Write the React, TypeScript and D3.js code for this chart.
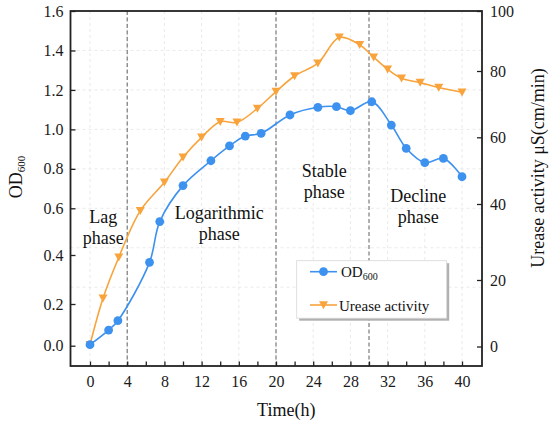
import React, { useEffect, useRef } from 'react';
import * as d3 from 'd3';

// OD600 readings (h, OD)
const timeOD = [0, 2, 3, 6.4, 7.5, 10, 13, 15, 16.7, 18.4, 21.5, 24.5, 26.5, 28, 30.3, 32.4, 34, 36, 38, 40];
const od600 = [0.005, 0.075, 0.12, 0.37, 0.543, 0.715, 0.841, 0.916, 0.966, 0.98, 1.073, 1.112, 1.115, 1.095, 1.14, 1.022, 0.904, 0.831, 0.853, 0.76];

// urease activity readings (h, uS(cm/min))
const timeUrease = [0, 1.4, 3.1, 5.4, 8, 10, 12, 14, 15.8, 18, 20, 22, 24.5, 26.8, 29, 30.5, 32, 33.5, 35.5, 37.5, 40];
const urease = [0.5, 14.5, 26, 38.2, 46.5, 54, 60, 64.7, 64.5, 68.7, 73.8, 78.5, 82.6, 91.2, 88.7, 84.6, 80.6, 77.8, 76.5, 75, 73.6];

const xTicks = d3.range(0, 41, 2);
const leftTicks = [0, 0.2, 0.4, 0.6, 0.8, 1.0, 1.2, 1.4, 1.6];
const rightTicks = [0, 20, 40, 60, 80, 100];
const phaseBounds = [4, 20, 30];

// phase annotations: centre time, baseline of first line in OD units
const phaseLabels = [
  { lines: ['Lag', 'phase'], t: 1.43, od: 0.537 },
  { lines: ['Logarithmic', 'phase'], t: 13.9, od: 0.556 },
  { lines: ['Stable', 'phase'], t: 25.2, od: 0.759 },
  { lines: ['Decline', 'phase'], t: 35.3, od: 0.632 },
];

const BLUE = '#3d91ef';
const ORANGE = '#f8a33b';
const FONT = 'Liberation Serif, Times New Roman, DejaVu Serif, serif';

const W = 550;
const H = 421;
const left = 70.5;
const right = 482;
const top = 11;
const bottom = 366;

const triPath = 'M-4.5,-3.8L4.5,-3.8L0,4.2Z';

const App: React.FC = () => {
  const svgRef = useRef<SVGSVGElement | null>(null);

  useEffect(() => {
    if (!svgRef.current) return;
    const svg = d3.select(svgRef.current);
    svg.selectAll('*').remove();

    const x = d3.scaleLinear().domain([0, 40]).range([90, 462]);
    // the printed axes are not evenly spaced, so follow the tick positions
    const yL = d3.scaleLinear().domain([0, 0.2, 0.4, 0.6, 1.6]).range([345.7, 304, 255, 208.3, 11]);
    const yR = d3.scaleLinear().domain([0, 20, 40, 60, 80, 100]).range([346.5, 280, 204, 137.3, 71, 11]);
    const yGrid = d3.scaleLinear().domain([0.6, 1.6]).range([208.3, 11]);

    // grid
    const grid = svg.append('g').attr('stroke', '#e4e4e4').attr('stroke-width', 0.8).attr('stroke-dasharray', '3,3');
    grid.selectAll('line.v')
      .data(d3.range(0, 41, 4))
      .enter()
      .append('line')
      .attr('x1', d => x(d)).attr('x2', d => x(d))
      .attr('y1', top).attr('y2', bottom);
    grid.selectAll('line.h')
      .data(d3.range(0.2, 1.5, 0.2))
      .enter()
      .append('line')
      .attr('x1', left).attr('x2', right)
      .attr('y1', d => yGrid(d)).attr('y2', d => yGrid(d));

    // phase boundaries
    svg.append('g')
      .selectAll('line')
      .data(phaseBounds)
      .enter()
      .append('line')
      .attr('x1', d => x(d)).attr('x2', d => x(d))
      .attr('y1', top).attr('y2', bottom)
      .attr('stroke', '#6e6e6e')
      .attr('stroke-width', 1.1)
      .attr('stroke-dasharray', '4,2.5');

    // axes
    const xAxis = svg.append('g')
      .attr('transform', `translate(0,${bottom})`)
      .call(d3.axisBottom(x).tickValues(xTicks).tickSizeInner(-4.5).tickSizeOuter(0).tickPadding(10)
        .tickFormat(d => ((d as number) % 4 === 0 ? String(d) : '')));
    const yAxisL = svg.append('g')
      .attr('transform', `translate(${left},0)`)
      .call(d3.axisLeft(yL).tickValues(leftTicks).tickSizeInner(-5).tickSizeOuter(0).tickPadding(7)
        .tickFormat(d3.format('.1f')));
    const yAxisR = svg.append('g')
      .attr('transform', `translate(${right},0)`)
      .call(d3.axisRight(yR).tickValues(rightTicks).tickSizeInner(-5).tickSizeOuter(0).tickPadding(8));

    [xAxis, yAxisL, yAxisR].forEach(a => {
      a.attr('font-family', FONT).attr('font-size', 16);
      a.select('.domain').remove();
      a.selectAll('.tick line').attr('stroke', '#222').attr('stroke-width', 1.3);
      a.selectAll('.tick text').attr('fill', '#1a1a1a');
    });

    // frame
    svg.append('rect')
      .attr('x', left).attr('y', top)
      .attr('width', right - left).attr('height', bottom - top)
      .attr('fill', 'none').attr('stroke', '#222').attr('stroke-width', 1.8);

    // urease curve
    const lineU = d3.line<number>()
      .x((_, i) => x(timeUrease[i]))
      .y(d => yR(d))
      .curve(d3.curveCatmullRom.alpha(0.5));
    svg.append('path')
      .datum(urease)
      .attr('d', lineU)
      .attr('fill', 'none').attr('stroke', ORANGE).attr('stroke-width', 1.6);
    svg.append('g')
      .selectAll('path')
      .data(urease)
      .enter()
      .append('path')
      .attr('d', triPath)
      .attr('transform', (d, i) => `translate(${x(timeUrease[i])},${yR(d)})`)
      .attr('fill', ORANGE);

    // OD curve
    const lineOD = d3.line<number>()
      .x((_, i) => x(timeOD[i]))
      .y(d => yL(d))
      .curve(d3.curveCatmullRom.alpha(0.5));
    svg.append('path')
      .datum(od600)
      .attr('d', lineOD)
      .attr('fill', 'none').attr('stroke', BLUE).attr('stroke-width', 1.6);
    svg.append('g')
      .selectAll('circle')
      .data(od600)
      .enter()
      .append('circle')
      .attr('cx', (_, i) => x(timeOD[i]))
      .attr('cy', d => yL(d))
      .attr('r', 4.4)
      .attr('fill', BLUE);

    // phase text
    const ph = svg.append('g').attr('font-family', FONT).attr('font-size', 18).attr('fill', '#111').attr('text-anchor', 'middle');
    phaseLabels.forEach(p => {
      p.lines.forEach((ln, j) => {
        ph.append('text')
          .attr('x', x(p.t))
          .attr('y', yL(p.od) + j * 21)
          .text(ln);
      });
    });

    // axis titles
    svg.append('text')
      .attr('x', (left + right) / 2 + 10).attr('y', 416)
      .attr('text-anchor', 'middle')
      .attr('font-family', FONT).attr('font-size', 18).attr('fill', '#111')
      .text('Time(h)');

    const odTitle = svg.append('text')
      .attr('transform', 'translate(22,177) rotate(-90)')
      .attr('text-anchor', 'middle')
      .attr('font-family', FONT).attr('font-size', 18).attr('fill', '#111');
    odTitle.append('tspan').text('OD');
    odTitle.append('tspan').attr('font-size', 11).attr('dy', 3).text('600');

    svg.append('text')
      .attr('transform', 'translate(544,168) rotate(-90)')
      .attr('text-anchor', 'middle')
      .attr('font-family', FONT).attr('font-size', 18).attr('fill', '#111')
      .text('Urease activity μS(cm/min)');

    // legend
    const lg = svg.append('g');
    lg.append('rect')
      .attr('x', 299.2).attr('y', 263.2).attr('width', 150).attr('height', 57.5)
      .attr('fill', '#b0b0b0');
    lg.append('rect')
      .attr('x', 296.7).attr('y', 260.7).attr('width', 150).attr('height', 57.5)
      .attr('fill', '#fff').attr('stroke', '#d8d8d8').attr('stroke-width', 0.8);

    lg.append('line').attr('x1', 310).attr('x2', 337).attr('y1', 271.7).attr('y2', 271.7)
      .attr('stroke', BLUE).attr('stroke-width', 1.6);
    lg.append('circle').attr('cx', 323.5).attr('cy', 271.7).attr('r', 4.4).attr('fill', BLUE);
    const lt = lg.append('text').attr('x', 341).attr('y', 277)
      .attr('font-family', FONT).attr('font-size', 15).attr('fill', '#111');
    lt.append('tspan').text('OD');
    lt.append('tspan').attr('font-size', 10).attr('dy', 3).text('600');

    lg.append('line').attr('x1', 310).attr('x2', 337).attr('y1', 305).attr('y2', 305)
      .attr('stroke', ORANGE).attr('stroke-width', 1.6);
    lg.append('path').attr('d', triPath).attr('transform', 'translate(323.5,305)').attr('fill', ORANGE);
    lg.append('text').attr('x', 339).attr('y', 311)
      .attr('font-family', FONT).attr('font-size', 15).attr('fill', '#111')
      .text('Urease activity');
  }, []);

  return (
    <svg
      ref={svgRef}
      width={W}
      height={H}
      style={{ position: 'absolute', left: 0, top: 0, background: '#fff' }}
    ></svg>
  );
};

export default App;
